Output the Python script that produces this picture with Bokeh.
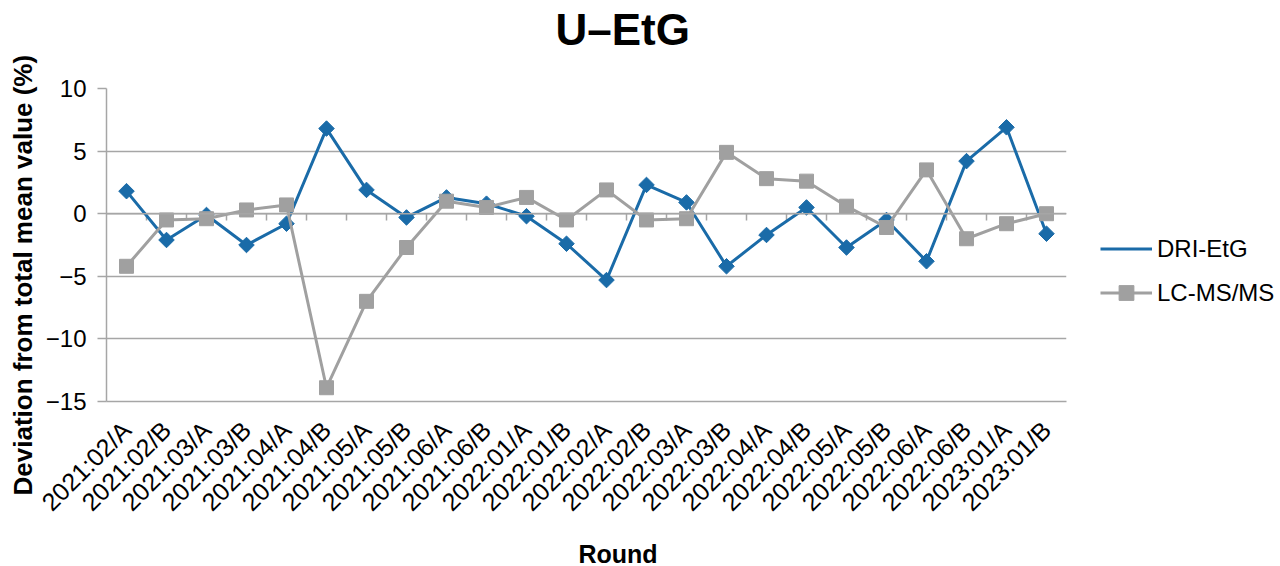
import numpy as np
from bokeh.plotting import figure
from bokeh.models import FactorRange, Range1d, Legend, LegendItem, ColumnDataSource, FixedTicker, Span, Title
from bokeh.embed import file_html
from bokeh.resources import INLINE

rounds = ["2021:02/A", "2021:02/B", "2021:03/A", "2021:03/B", "2021:04/A", "2021:04/B",
          "2021:05/A", "2021:05/B", "2021:06/A", "2021:06/B", "2022:01/A", "2022:01/B",
          "2022:02/A", "2022:02/B", "2022:03/A", "2022:03/B", "2022:04/A", "2022:04/B",
          "2022:05/A", "2022:05/B", "2022:06/A", "2022:06/B", "2023:01/A", "2023:01/B"]
dri_etg = [1.8, -2.1, -0.1, -2.5, -0.8, 6.8, 1.9, -0.3, 1.3, 0.8, -0.2, -2.4,
           -5.3, 2.3, 0.9, -4.2, -1.7, 0.5, -2.7, -0.5, -3.8, 4.2, 6.9, -1.6]
lc_msms = [-4.2, -0.5, -0.4, 0.3, 0.7, -13.9, -7.0, -2.7, 1.0, 0.5, 1.3, -0.5,
           1.9, -0.5, -0.4, 4.9, 2.8, 2.6, 0.6, -1.1, 3.5, -2.0, -0.8, 0.0]
y_ticks = [-15, -10, -5, 0, 5, 10]

FONT = "Liberation Sans"
BLUE = "#1A6BA8"
GRAY = "#A0A0A0"
GRID = "#A6A6A6"

p = figure(x_range=FactorRange(factors=rounds, range_padding=0),
           y_range=Range1d(-15, 10),
           frame_width=960, frame_height=313,
           min_border_left=106, min_border_right=206, min_border_top=88, min_border_bottom=165,
           output_backend="svg", toolbar_location=None,
           title="U\u2013EtG")

p.title.text_font = FONT
p.title.text_font_size = "44px"
p.title.text_font_style = "bold"
p.title.align = "left"
p.title.offset = 449
p.title.standoff = 0
p.title.text_color = "black"

# invisible spacer between the title and the plot area
spacer = Title(text=" ", text_font_size="1px", standoff=32)
p.add_layout(spacer, "above")

p.outline_line_color = None
p.xgrid.grid_line_color = None
p.ygrid.grid_line_color = GRID
p.ygrid.grid_line_width = 1.5

p.yaxis.ticker = FixedTicker(ticks=y_ticks)
p.yaxis.axis_line_color = GRID
p.yaxis.axis_line_width = 1.5
p.yaxis.major_tick_line_color = GRID
p.yaxis.major_tick_line_width = 1.5
p.yaxis.major_tick_out = 9
p.yaxis.major_tick_in = 0
p.yaxis.minor_tick_line_color = None
p.yaxis.major_label_text_font = FONT
p.yaxis.major_label_text_font_size = "24px"
p.yaxis.major_label_text_color = "black"
p.yaxis.major_label_standoff = 11

y_title = Title(text="Deviation from total mean value (%)", align="left", offset=-94,
                standoff=10, text_font=FONT, text_font_size="26px", text_font_style="bold",
                text_color="black")
p.add_layout(y_title, "left")

p.xaxis.axis_line_color = GRID
p.xaxis.axis_line_width = 1.5
p.xaxis.major_tick_line_color = None
p.xaxis.minor_tick_line_color = None
p.xaxis.major_label_orientation = np.pi / 4
p.xaxis.major_label_text_font = FONT
p.xaxis.major_label_text_font_size = "25px"
p.xaxis.major_label_text_color = "black"
p.xaxis.major_label_standoff = 18

x_title = Title(text="Round", align="left", offset=472, standoff=19,
                text_font=FONT, text_font_size="25px", text_font_style="bold", text_color="black")
p.add_layout(x_title, "below")

# zero line with category boundary tick marks
p.add_layout(Span(location=0, dimension="width", line_color=GRID, line_width=1.5))
bounds = np.arange(1, len(rounds))
p.segment(x0=bounds, y0=[0] * len(bounds), x1=bounds, y1=[-0.55] * len(bounds),
          line_color=GRID, line_width=1.5)

src = ColumnDataSource(dict(x=rounds, dri=dri_etg, lc=lc_msms))
l1 = p.line("x", "dri", source=src, line_color=BLUE, line_width=3)
m1 = p.scatter("x", "dri", source=src, marker="square", angle=np.pi / 4, size=11,
               fill_color=BLUE, line_color=BLUE)
l2 = p.line("x", "lc", source=src, line_color=GRAY, line_width=3)
m2 = p.scatter("x", "lc", source=src, marker="square", size=14, fill_color=GRAY, line_color=GRAY)

# legend-only diamond (no data drawn in the plot)
leg_src = ColumnDataSource(dict(x=[], y=[]))
m1_leg = p.scatter("x", "y", source=leg_src, marker="diamond", size=11,
                   fill_color=BLUE, line_color=BLUE)

legend = Legend(items=[LegendItem(label="DRI-EtG", renderers=[l1, m1_leg]),
                       LegendItem(label="LC-MS/MS", renderers=[l2, m2])],
                location=(34, 90))
legend.border_line_color = None
legend.background_fill_alpha = 0
legend.label_text_font = FONT
legend.label_text_font_size = "24px"
legend.label_text_color = "black"
legend.glyph_width = 52
legend.glyph_height = 37
legend.label_height = 24
legend.spacing = 7
legend.padding = 0
legend.margin = 0
legend.label_standoff = 5
p.add_layout(legend, "right")

open("out.html", "w").write(file_html(p, INLINE))
